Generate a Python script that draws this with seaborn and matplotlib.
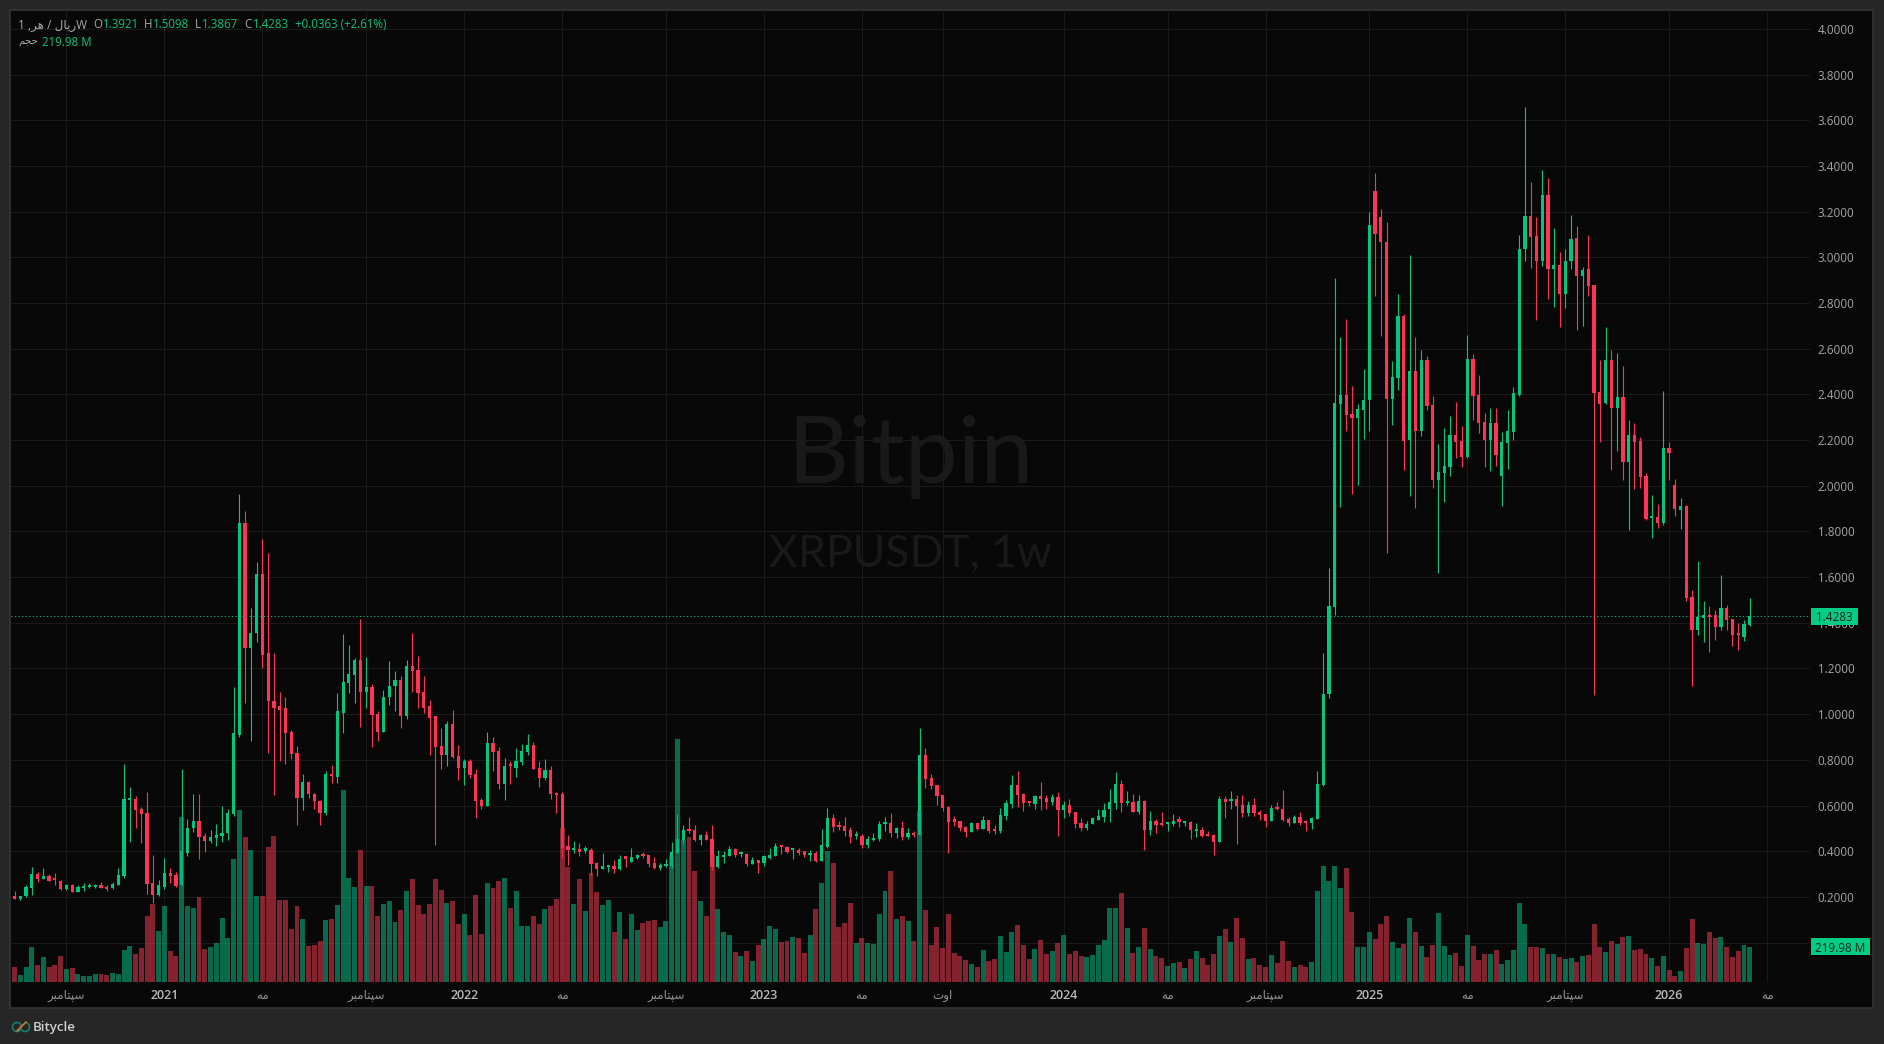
"""Weekly XRP/USDT candles with volume, dark terminal style."""

import matplotlib

matplotlib.use("Agg")

import matplotlib.pyplot as plt
import numpy as np
import pandas as pd
import seaborn as sns
from matplotlib.patches import Arc, Rectangle

OPEN = [
    .185, .206, .19, .202, .24, .30, .28, .293, .275, .27,
    .235, .25, .22, .237, .243, .245, .25, .24, .237, .253,
    .29, .625, .63, .585, .569, .261, .208, .242, .305, .297,
    .25, .394, .50, .534, .468, .444, .458, .466, .479, .564,
    .91, 1.835, 1.288, 1.354, 1.613, 1.266, 1.059, 1.034, 1.025, .924,
    .832, .635, .703, .651, .621, .569, .736, .727, 1.007, 1.138,
    1.17, 1.236, 1.096, 1.121, 1.0, .924, 1.074, 1.124, 1.148, .99,
    1.209, 1.192, 1.096, 1.034, .99, .862, .823, .955, .818, .766,
    .797, .739, .625, .599, .874, .839, .695, .774, .765, .791,
    .834, .866, .765, .72, .756, .655, .651, .423, .406, .41,
    .403, .406, .349, .323, .331, .336, .323, .371, .355, .371,
    .384, .384, .349, .327, .336, .336, .393, .45, .493, .493,
    .45, .472, .454, .331, .375, .38, .41, .387, .388, .345,
    .362, .349, .371, .38, .423, .419, .405, .404, .401, .384,
    .393, .358, .419, .546, .511, .511, .493, .467, .467, .428,
    .448, .454, .521, .524, .48, .502, .463, .48, .471, .822,
    .721, .69, .647, .594, .533, .533, .507, .485, .525, .498,
    .538, .493, .49, .555, .607, .69, .651, .616, .607, .642,
    .634, .616, .638, .581, .603, .572, .524, .502, .52, .537,
    .55, .585, .612, .695, .612, .616, .572, .62, .494, .533,
    .52, .52, .52, .533, .522, .528, .49, .494, .472, .471,
    .44, .629, .618, .629, .603, .568, .603, .572, .564, .533,
    .59, .585, .542, .524, .55, .528, .524, .542, .69, 1.09,
    1.47, 2.358, 2.397, 2.314, 2.296, 2.331, 2.375, 3.292, 3.178, 3.069,
    2.38, 2.472, 2.743, 2.2, 2.502, 2.239, 2.55, 2.353, 2.025, 2.056,
    2.082, 2.222, 2.196, 2.126, 2.555, 2.397, 2.279, 2.2, 2.274, 2.042,
    2.187, 2.235, 2.396, 3.035, 3.18, 3.094, 2.986, 3.273, 2.947, 2.965,
    2.84, 2.983, 3.085, 2.918, 2.949, 2.879, 2.409, 2.362, 2.552, 2.34,
    2.389, 2.104, 2.223, 2.196, 2.042, 1.86, 1.863, 1.836, 2.165, 2.002,
    1.893, 1.913, 1.512, 1.368, 1.419, 1.433, 1.433, 1.38, 1.464, 1.416,
    1.35, 1.337, 1.3921,
]
HIGH = [
    .21, .226, .206, .25, .332, .31, .328, .30, .306, .275,
    .258, .255, .25, .26, .26, .258, .265, .25, .266, .326,
    .783, .683, .643, .593, .659, .384, .275, .372, .327, .308,
    .758, .542, .652, .652, .479, .495, .52, .597, .586, 1.118,
    1.966, 1.889, 1.463, 1.665, 1.766, 1.704, 1.266, 1.099, 1.077, .929,
    .861, .739, .709, .657, .626, .753, .779, 1.091, 1.35, 1.305,
    1.244, 1.416, 1.249, 1.13, 1.015, 1.107, 1.231, 1.187, 1.165, 1.236,
    1.354, 1.255, 1.165, 1.064, .99, .938, .971, 1.017, .865, .805,
    .805, .761, .634, .923, .901, .857, .807, .796, .853, .87,
    .914, .879, .796, .804, .774, .66, .66, .471, .445, .435,
    .423, .415, .353, .391, .34, .362, .384, .375, .415, .388,
    .397, .384, .375, .349, .366, .441, .564, .515, .55, .515,
    .476, .489, .515, .406, .401, .423, .415, .401, .391, .375,
    .362, .384, .415, .436, .428, .423, .413, .415, .401, .406,
    .401, .498, .59, .564, .533, .55, .507, .489, .476, .467,
    .48, .533, .55, .568, .507, .533, .502, .489, .94, .853,
    .739, .69, .647, .599, .555, .533, .511, .529, .525, .555,
    .538, .515, .59, .625, .734, .752, .655, .62, .647, .704,
    .647, .651, .66, .62, .629, .572, .546, .533, .55, .585,
    .612, .673, .747, .712, .664, .651, .647, .625, .577, .542,
    .572, .529, .563, .555, .533, .533, .524, .507, .489, .476,
    .642, .642, .664, .647, .647, .62, .634, .58, .564, .603,
    .616, .669, .55, .559, .572, .537, .55, .752, 1.27, 1.638,
    2.91, 2.651, 2.73, 2.436, 2.358, 2.511, 3.2, 3.369, 3.212, 3.156,
    2.546, 2.839, 2.752, 3.01, 2.651, 2.594, 2.568, 2.393, 2.182, 2.253,
    2.305, 2.366, 2.261, 2.66, 2.577, 2.485, 2.318, 2.34, 2.34, 2.235,
    2.331, 2.432, 3.099, 3.659, 3.332, 3.176, 3.384, 3.348, 3.13, 3.024,
    3.036, 3.187, 3.138, 2.958, 3.099, 2.879, 2.552, 2.695, 2.595, 2.582,
    2.525, 2.289, 2.274, 2.214, 2.056, 1.96, 1.92, 2.415, 2.192, 2.029,
    1.945, 1.915, 1.543, 1.67, 1.494, 1.473, 1.455, 1.609, 1.48, 1.416,
    1.398, 1.412, 1.5098,
]
LOW = [
    .175, .193, .187, .2, .21, .267, .277, .27, .25, .23,
    .232, .22, .22, .228, .24, .24, .24, .225, .235, .252,
    .283, .44, .503, .438, .214, .175, .203, .236, .261, .242,
    .249, .381, .482, .364, .395, .438, .425, .44, .45, .553,
    .90, 1.051, .884, 1.318, 1.204, .832, .648, .793, .783, .805,
    .514, .581, .635, .586, .517, .558, .697, .70, .919, 1.091,
    1.051, .946, 1.025, .857, .884, .924, 1.042, 1.012, .938, .98,
    1.099, 1.029, 1.007, .823, .428, .761, .775, .81, .711, .692,
    .722, .547, .587, .596, .753, .673, .625, .695, .726, .778,
    .822, .761, .682, .712, .629, .568, .371, .34, .393, .38,
    .391, .296, .292, .323, .309, .305, .318, .331, .353, .364,
    .372, .331, .323, .318, .331, .327, .393, .432, .48, .445,
    .428, .45, .318, .327, .349, .377, .375, .375, .336, .345,
    .305, .336, .366, .38, .388, .393, .366, .384, .375, .358,
    .353, .358, .415, .485, .493, .467, .436, .454, .415, .415,
    .445, .445, .489, .463, .458, .45, .454, .463, .471, .677,
    .673, .603, .577, .393, .511, .489, .463, .485, .493, .498,
    .48, .476, .48, .537, .59, .594, .577, .599, .585, .581,
    .585, .603, .467, .546, .555, .502, .489, .495, .52, .537,
    .528, .528, .585, .572, .603, .572, .564, .406, .472, .48,
    .511, .489, .511, .507, .511, .454, .463, .463, .467, .384,
    .44, .546, .585, .432, .55, .555, .555, .537, .507, .533,
    .58, .533, .511, .524, .515, .489, .498, .542, .685, 1.07,
    1.434, 1.907, 2.239, 1.964, 2.003, 2.204, 2.239, 2.832, 2.655, 1.705,
    2.266, 2.419, 2.069, 1.955, 1.902, 2.217, 2.331, 1.99, 1.618, 1.928,
    2.042, 2.121, 2.082, 2.121, 2.288, 2.231, 2.082, 2.064, 2.086, 1.911,
    2.073, 2.2, 2.392, 2.986, 2.954, 2.727, 2.963, 2.818, 2.782, 2.695,
    2.779, 2.949, 2.682, 2.7, 2.831, 1.083, 2.192, 2.36, 2.069, 2.153,
    2.026, 1.806, 1.985, 1.99, 1.85, 1.77, 1.815, 1.827, 2.026, 1.867,
    1.81, 1.494, 1.122, 1.346, 1.316, 1.271, 1.325, 1.368, 1.367, 1.298,
    1.28, 1.319, 1.3867,
]
CLOSE = [
    .205, .193, .205, .245, .30, .28, .293, .27, .272, .235,
    .25, .22, .245, .248, .248, .25, .24, .235, .258, .296,
    .63, .63, .58, .565, .258, .208, .25, .305, .291, .247,
    .40, .503, .534, .463, .444, .463, .473, .48, .569, .916,
    1.835, 1.288, 1.357, 1.613, 1.261, 1.056, 1.029, 1.02, .919, .827,
    .635, .703, .649, .618, .569, .736, .731, 1.012, 1.143, 1.174,
    1.236, 1.096, 1.121, .996, .924, 1.077, 1.124, 1.148, .99, 1.209,
    1.187, 1.091, 1.029, .985, .857, .823, .955, .813, .766, .797,
    .734, .618, .599, .874, .836, .695, .774, .771, .796, .839,
    .866, .761, .721, .756, .651, .647, .415, .406, .41, .397,
    .406, .345, .323, .336, .336, .323, .366, .368, .375, .384,
    .38, .345, .327, .34, .345, .397, .454, .493, .489, .45,
    .472, .45, .331, .38, .384, .41, .384, .391, .345, .362,
    .349, .38, .384, .423, .42, .397, .408, .394, .384, .393,
    .358, .428, .546, .507, .508, .489, .463, .471, .428, .454,
    .458, .52, .524, .48, .502, .463, .48, .471, .822, .717,
    .686, .642, .59, .528, .53, .502, .485, .525, .498, .538,
    .489, .49, .559, .612, .69, .647, .612, .613, .642, .629,
    .616, .638, .581, .603, .568, .52, .502, .52, .546, .555,
    .581, .616, .695, .612, .616, .572, .62, .494, .533, .515,
    .515, .524, .533, .53, .528, .494, .494, .467, .467, .44,
    .629, .616, .625, .599, .568, .603, .568, .559, .533, .59,
    .585, .537, .524, .55, .524, .525, .546, .695, 1.09, 1.473,
    2.362, 2.397, 2.309, 2.296, 2.336, 2.375, 3.143, 3.104, 3.066, 2.38,
    2.476, 2.743, 2.196, 2.502, 2.239, 2.55, 2.349, 2.025, 2.06, 2.086,
    2.222, 2.191, 2.126, 2.555, 2.393, 2.274, 2.2, 2.274, 2.134, 2.191,
    2.239, 2.406, 3.036, 3.18, 3.09, 2.986, 3.273, 2.947, 2.965, 2.84,
    2.983, 3.08, 2.918, 2.945, 2.875, 2.407, 2.359, 2.552, 2.34, 2.389,
    2.104, 2.223, 2.19, 2.038, 1.856, 1.863, 1.836, 2.165, 2.144, 1.897,
    1.913, 1.507, 1.368, 1.426, 1.433, 1.425, 1.38, 1.464, 1.412, 1.346,
    1.345, 1.394, 1.4283,
]
# volume in millions
VOLUME = [
    43, 93, 43, 93, 217, 104, 156, 93, 104, 160,
    79, 86, 47, 36, 36, 47, 47, 43, 54, 47,
    199, 224, 174, 212, 414, 488, 319, 475, 192, 160,
    1035, 475, 463, 531, 206, 217, 244, 400, 273, 771,
    1078, 909, 827, 538, 538, 845, 915, 513, 513, 330,
    475, 393, 224, 231, 255, 389, 393, 481, 1205, 651,
    594, 827, 601, 601, 414, 488, 506, 375, 450, 570,
    646, 481, 425, 488, 646, 576, 495, 506, 362, 425,
    294, 545, 302, 622, 591, 635, 654, 465, 572, 352,
    352, 415, 365, 459, 478, 522, 968, 723, 490, 647,
    446, 685, 566, 484, 515, 314, 440, 270, 427, 327,
    371, 383, 390, 346, 383, 792, 1527, 892, 911, 698,
    509, 415, 798, 459, 314, 295, 189, 163, 195, 132,
    233, 270, 352, 333, 251, 258, 283, 277, 182, 295,
    459, 622, 823, 748, 346, 371, 497, 245, 277, 245,
    239, 427, 572, 698, 396, 415, 383, 258, 1075, 453,
    233, 346, 214, 427, 182, 163, 138, 113, 94, 201,
    132, 145, 289, 189, 314, 358, 233, 145, 207, 264,
    176, 195, 245, 295, 176, 195, 163, 157, 170, 233,
    264, 465, 465, 559, 339, 182, 220, 339, 207, 163,
    151, 101, 119, 126, 88, 145, 195, 151, 107, 176,
    289, 333, 251, 402, 277, 145, 151, 107, 94, 170,
    119, 258, 132, 94, 107, 94, 126, 572, 729, 635,
    729, 591, 716, 440, 220, 220, 314, 270, 365, 415,
    251, 214, 239, 402, 314, 226, 157, 233, 434, 226,
    170, 182, 101, 295, 226, 138, 176, 176, 201, 113,
    138, 201, 497, 365, 220, 220, 214, 176, 176, 157,
    145, 151, 126, 163, 170, 365, 220, 189, 258, 239,
    283, 289, 201, 207, 176, 151, 101, 163, 75, 38,
    69, 214, 396, 245, 239, 314, 277, 283, 220, 157,
    195, 233, 219.98,
]

PRICE_TICKS = np.arange(0, 4.01, 0.2)
TICK_WEEKS = [10, 27, 44, 62, 79, 96, 114, 131, 148, 162, 183, 201, 218, 236, 253, 270, 288, 305]
TICK_LABELS = ["سپتامبر", "2021", "مه", "سپتامبر", "2022", "مه", "سپتامبر", "2023", "مه", "اوت",
               "2024", "مه", "سپتامبر", "2025", "مه", "سپتامبر", "2026", "مه"]
LAST_CHANGE = "+0.0363 (+2.61%)"

FIG_W, FIG_H = 1884, 1044
BG_OUTER = "#262626"
BG_PANEL = "#080808"
GRID = "#1a1a1a"
GREEN = "#00c77f"
RED = "#ff3355"
TAG_GREEN = "#00cc85"
WATERMARK = "#191919"
FONT = ["Open Sans", "DejaVu Sans"]

# isolated, final, initial, medial (right-joining letters only have the first two)
FA_FORMS = {
    "س": "\ufeb1\ufeb2\ufeb3\ufeb4", "پ": "\ufb56\ufb57\ufb58\ufb59", "ت": "\ufe95\ufe96\ufe97\ufe98",
    "م": "\ufee1\ufee2\ufee3\ufee4", "ب": "\ufe8f\ufe90\ufe91\ufe92", "ه": "\ufee9\ufeea\ufeeb\ufeec",
    "ی": "\ufbfc\ufbfd\ufbfe\ufbff", "ل": "\ufedd\ufede\ufedf\ufee0", "ح": "\ufea1\ufea2\ufea3\ufea4",
    "ج": "\ufe9d\ufe9e\ufe9f\ufea0", "ا": "\ufe8d\ufe8e", "ر": "\ufead\ufeae", "و": "\ufeed\ufeee",
}


def shape_fa(word):
    """matplotlib does no Arabic shaping, so pick joined forms and reverse."""
    if word[0] not in FA_FORMS:
        return word
    glyphs = []
    for i, ch in enumerate(word):
        forms = FA_FORMS[ch]
        after_joiner = i > 0 and len(FA_FORMS[word[i - 1]]) == 4
        before_next = i < len(word) - 1 and len(forms) == 4
        if after_joiner and before_next:
            glyphs.append(forms[3])
        elif before_next:
            glyphs.append(forms[2])
        elif after_joiner:
            glyphs.append(forms[1])
        else:
            glyphs.append(forms[0])
    return "".join(reversed(glyphs))


def fx(px):
    return px / FIG_W


def fy(px):
    return 1 - px / FIG_H


def put_text(fig, px, py, text, color, size=8.3, **kwargs):
    kwargs.setdefault("va", "center")
    fig.text(fx(px), fy(py), text, color=color, fontsize=size, family=FONT, **kwargs)


def value_tag(fig, ax, value, left, right, text):
    """Coloured label on the price scale, centred on a value of the given axes."""
    fig.canvas.draw()
    y_mid = ax.transData.transform((0, value))[1] / fig.bbox.height
    height = 17 / FIG_H
    fig.add_artist(Rectangle((fx(left), y_mid - height / 2), (right - left) / FIG_W, height,
                             transform=fig.transFigure, facecolor=TAG_GREEN, edgecolor="none", zorder=4))
    fig.text(fx((left + right) / 2), y_mid, text, color="#08261b", fontsize=8.4, family=FONT,
             ha="center", va="center_baseline", zorder=5)


sns.set_theme(style="dark", rc={"axes.facecolor": "none", "figure.facecolor": BG_OUTER})
plt.rcParams["font.family"] = FONT

weeks = np.arange(len(CLOSE))
opens, highs, lows, closes = map(np.array, (OPEN, HIGH, LOW, CLOSE))
df = pd.DataFrame({"week": weeks, "volume": VOLUME, "side": np.where(closes >= opens, "up", "down")})

fig = plt.figure(figsize=(FIG_W / 100, FIG_H / 100), dpi=100)
fig.add_artist(Rectangle((fx(10), fy(1008)), (1873 - 10) / FIG_W, (1008 - 10) / FIG_H, transform=fig.transFigure,
                         facecolor=BG_PANEL, edgecolor="#343434", linewidth=1.2, zorder=-2))

rect = [fx(11), fy(981.6), (1810 - 11) / FIG_W, (981.6 - 10) / FIG_H]
ax = fig.add_axes(rect)
ax_vol = fig.add_axes(rect)

# watermark sits behind everything on the panel
fig.text(fx(911), fy(483), "Bitpin", color=WATERMARK, fontsize=68, family="Lato",
         ha="center", va="baseline", zorder=-1)
fig.text(fx(910), fy(567), "XRPUSDT, 1w", color=WATERMARK, fontsize=32, family="Lato",
         ha="center", va="baseline", zorder=-1)

is_up = closes >= opens
colors = np.where(is_up, GREEN, RED)
ax.vlines(weeks, lows, highs, colors=colors, linewidth=0.8, zorder=3)
body_low = np.minimum(opens, closes)
body_height = np.maximum(np.abs(closes - opens), 0.009)
ax.bar(weeks, body_height, bottom=body_low, width=0.56, color=colors, linewidth=0, zorder=3)
ax.axhline(CLOSE[-1], color=GREEN, linewidth=0.8, linestyle=(0, (1, 2.2)), zorder=2)

ax.set_xlim(0.39, 312.45)
ax.set_ylim(-0.1708, 4.083)
ax.set_yticks(PRICE_TICKS)
ax.set_yticklabels([f"{v:.4f}" for v in PRICE_TICKS], va="center_baseline")
ax.yaxis.tick_right()
ax.set_xticks(TICK_WEEKS)
ax.set_xticklabels([shape_fa(t) for t in TICK_LABELS])
ax.tick_params(axis="y", length=0, pad=5.6, labelsize=8.4, colors="#a4a4a4")
ax.tick_params(axis="x", length=0, pad=5.2, labelsize=8.6, colors="#949494")
for label in ax.get_xticklabels():
    if label.get_text().isdigit():
        label.set_color("#b8b8b8")
        label.set_fontsize(9)
        label.set_fontweight("semibold")
ax.grid(True, color=GRID, linewidth=0.8)
ax.set_axisbelow(True)
sns.despine(ax=ax, left=True, bottom=True, top=True, right=True)
ax.set_xlabel("")

# volume is laid over the candles, semi transparent
sns.barplot(data=df, x="week", y="volume", hue="side", palette={"up": "#09ac7a", "down": "#d9344b"},
            dodge=False, width=0.86, native_scale=True, errorbar=None, legend=False, saturation=1,
            alpha=0.6, linewidth=0, ax=ax_vol)
ax_vol.set_xlim(ax.get_xlim())
ax_vol.set_ylim(0, 971.6 * 6.285)
ax_vol.set_axis_off()

value_tag(fig, ax, CLOSE[-1], 1811, 1858, f"{CLOSE[-1]:.4f}")
value_tag(fig, ax_vol, VOLUME[-1], 1811, 1870, f"{VOLUME[-1]:.2f} M")

# top-left legend row
put_text(fig, 18, 25, f"1 ,{shape_fa('هر')} / {shape_fa('ریال')}W", "#a8a8a8", ha="left", size=8.6)
for letter, value, x_letter, x_value in [("O", OPEN[-1], 93, 102.5), ("H", HIGH[-1], 144, 153),
                                         ("L", LOW[-1], 195, 201.5), ("C", CLOSE[-1], 244, 252.5)]:
    put_text(fig, x_letter, 25, letter, "#a8a8a8", ha="left")
    put_text(fig, x_value, 25, f"{value:.4f}", GREEN, ha="left")
put_text(fig, 295, 25, LAST_CHANGE, GREEN, ha="left")
put_text(fig, 18, 42, shape_fa("حجم"), "#a8a8a8", ha="left", size=7.4)
put_text(fig, 42, 42, f"{VOLUME[-1]:.2f} M", GREEN, ha="left")

# footer with the small logo
for cx, start, end in [(17, 30, 330), (25, 150, 450)]:
    fig.add_artist(Arc((fx(cx), fy(1027)), 9 / FIG_W, 9 / FIG_H, theta1=start, theta2=end,
                       color="#12806a", linewidth=1.2, transform=fig.transFigure))
fig.add_artist(plt.Line2D([fx(17), fx(26)], [fy(1031), fy(1022)], color="#d9743a", linewidth=1.2,
                          transform=fig.transFigure))
put_text(fig, 33, 1027, "Bitycle", "#cfcfcf", size=9.6, ha="left", fontweight="semibold")

fig.savefig("out.png", dpi=100, facecolor=fig.get_facecolor())
plt.close(fig)
